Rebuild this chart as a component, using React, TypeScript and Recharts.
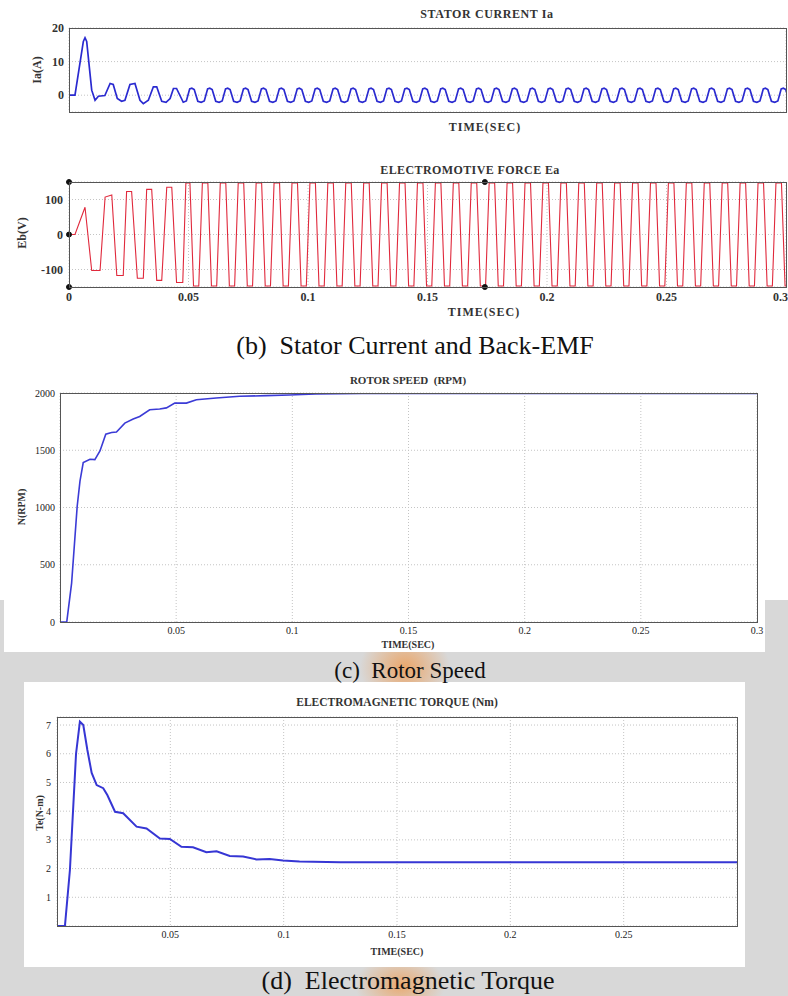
import React from 'react';
import { LineChart, Line, XAxis, YAxis, CartesianGrid, ReferenceDot } from 'recharts';

// time axis ticks (s)
const TIME_TICKS = [0, 0.05, 0.1, 0.15, 0.2, 0.25, 0.3];
const TIME_TICKS_SPEED = [0.05, 0.1, 0.15, 0.2, 0.25, 0.3];
const TIME_TICKS_TORQUE = [0.05, 0.1, 0.15, 0.2, 0.25];

// stator current Ia (A): start-up transient
const CUR_T = [0, 0.0025, 0.006, 0.0067, 0.0074, 0.0095, 0.0109, 0.0123, 0.015, 0.0172, 0.0185, 0.0202, 0.022, 0.0234, 0.0255, 0.0276, 0.0297, 0.0311, 0.0332, 0.0353, 0.0367, 0.0388, 0.0406, 0.0423, 0.0437, 0.045, 0.0478];
const CUR_V = [0, 0, 16, 17.1, 16, 1.5, -1.5, -0.3, -0.1, 3.5, 3.2, -1, -1.8, -1.5, 3.2, 3.5, -1.5, -2.5, -1.5, 2.5, 2.5, -1.8, -2.1, -1, 2.0, 2.0, -2.1];
// one steady-state period of Ia, repeated to the end of the run
const CUR_CYCLE_DT = [0, 0.0013, 0.0027, 0.0036, 0.0046, 0.0061];
const CUR_CYCLE_V = [-2.1, -1.7, 1.9, 2.1, 1.7, -1.8];

// back-EMF Ea (V)
const EMF_T = [0, 0.0025, 0.0067, 0.0095, 0.013, 0.0151, 0.0179, 0.02, 0.0227, 0.0241, 0.0262, 0.0286, 0.0311, 0.0325, 0.0346, 0.0367, 0.0388, 0.0409, 0.043, 0.045, 0.0476, 0.0489, 0.0506];
const EMF_V = [0, 0, 78, -103, -103, 107, 113, -117, -117, 123, 123, -125, -125, 129, 129, -131, -131, 135, 135, -137, -137, 147, 147];
const EMF_CYCLE_DT = [0, 0.0015, 0.0037, 0.0052];
const EMF_CYCLE_V = [147, -147, -147, 147];

const STEADY_PERIOD = 0.0075; // 2000 rpm, 4 pole pairs
const T_END = 0.3;

// data-cursor markers on the EMF plot
const EMF_CURSORS = [
  { t: 0, v: 150 },
  { t: 0, v: 0 },
  { t: 0, v: -150 },
  { t: 0.174, v: 150 },
  { t: 0.174, v: -150 },
];

// rotor speed (rpm)
const SPEED_T = [0, 0.0029, 0.005, 0.0074, 0.0086, 0.01, 0.0129, 0.015, 0.0172, 0.0197, 0.0222, 0.0243, 0.0279, 0.0315, 0.0343, 0.0386, 0.0429, 0.0458, 0.0494, 0.0544, 0.0587, 0.0672, 0.0773, 0.0887, 0.0987, 0.11, 0.13, 0.3];
const SPEED_V = [0, 0, 340, 1011, 1231, 1392, 1421, 1418, 1494, 1640, 1655, 1660, 1737, 1772, 1795, 1854, 1860, 1870, 1912, 1912, 1941, 1956, 1971, 1977, 1982, 1991, 1995, 1996];

// electromagnetic torque (N-m)
const TORQUE_T = [0, 0.0035, 0.0057, 0.0084, 0.0101, 0.0116, 0.0134, 0.0153, 0.0175, 0.0204, 0.0222, 0.0256, 0.0292, 0.0351, 0.0395, 0.0454, 0.0498, 0.0549, 0.06, 0.0659, 0.0704, 0.0762, 0.0821, 0.088, 0.0938, 0.0997, 0.107, 0.125, 0.3];
const TORQUE_V = [0, 0, 1.95, 6.0, 7.12, 7.0, 6.13, 5.33, 4.91, 4.8, 4.56, 3.98, 3.93, 3.46, 3.4, 3.05, 3.03, 2.76, 2.74, 2.57, 2.6, 2.44, 2.42, 2.32, 2.33, 2.28, 2.25, 2.22, 2.22];

type Pt = { t: number; v: number };

function zipPts(ts: number[], vs: number[]): Pt[] {
  return ts.map((t, i) => ({ t, v: vs[i] }));
}

// transient followed by the measured steady cycle
function withSteady(ts: number[], vs: number[], dts: number[], cvs: number[]): Pt[] {
  const pts = zipPts(ts, vs);
  const start = ts[ts.length - 1];
  for (let c = start; c < T_END; c += STEADY_PERIOD) {
    dts.forEach((dt, i) => {
      if (c + dt > start) pts.push({ t: c + dt, v: cvs[i] });
    });
  }
  return pts;
}

const currentData = withSteady(CUR_T, CUR_V, CUR_CYCLE_DT, CUR_CYCLE_V);
const emfData = withSteady(EMF_T, EMF_V, EMF_CYCLE_DT, EMF_CYCLE_V);
const speedData = zipPts(SPEED_T, SPEED_V);
const torqueData = zipPts(TORQUE_T, TORQUE_V);

const SERIF = '"Liberation Serif", "DejaVu Serif", serif';
const tickBig = { fontFamily: SERIF, fontSize: 12, fontWeight: 'bold', fill: '#333' };
const tickSmall = { fontFamily: SERIF, fontSize: 10, fill: '#222' };
const gridProps = { stroke: '#c4c4c4', strokeDasharray: '1 2' };

function Txt({ x, y, size, rotate, bold, spacing, children }: any) {
  return (
    <div
      style={{
        position: 'absolute',
        left: x,
        top: y,
        transform: `translate(-50%, -50%)${rotate ? ' rotate(-90deg)' : ''}`,
        fontFamily: SERIF,
        fontSize: size,
        fontWeight: bold ? 'bold' : 'normal',
        letterSpacing: spacing || 0,
        color: bold ? '#333' : '#111',
        whiteSpace: 'pre',
        lineHeight: 1,
      }}
    >
      {children}
    </div>
  );
}

function Box({ l, t, r, b }: { l: number; t: number; r: number; b: number }) {
  return (
    <div
      style={{
        position: 'absolute',
        left: l,
        top: t,
        width: r - l + 1,
        height: b - t + 1,
        border: '1px solid #555',
        boxSizing: 'border-box',
        pointerEvents: 'none',
      }}
    />
  );
}

export default function App() {
  return (
    <div style={{ position: 'absolute', left: 0, top: 0, width: 788, height: 996, background: '#fff', overflow: 'hidden' }}>
      {/* watermark backdrop */}
      <div
        style={{
          position: 'absolute',
          left: 0,
          top: 600,
          width: 788,
          height: 396,
          background:
            'radial-gradient(ellipse 45px 40px at 405px 68px, rgba(240,150,70,0.75), rgba(240,150,70,0) 100%),' +
            'radial-gradient(ellipse 45px 30px at 400px 385px, rgba(240,150,70,0.7), rgba(240,150,70,0) 100%),' +
            '#d8d8d8',
        }}
      />
      <div style={{ position: 'absolute', left: 4, top: 362, width: 761, height: 290, background: '#fff' }} />
      <div style={{ position: 'absolute', left: 24, top: 682, width: 721, height: 285, background: '#fff' }} />

      {/* (b) stator current */}
      <div style={{ position: 'absolute', left: 0, top: 0 }}>
        <LineChart width={788} height={120} data={currentData} margin={{ top: 28, right: 2, bottom: 0, left: 0 }}>
          <CartesianGrid {...gridProps} />
          <XAxis dataKey="t" type="number" domain={[0, T_END]} ticks={TIME_TICKS} allowDataOverflow tick={false} tickLine={false} axisLine={false} height={8} />
          <YAxis type="number" domain={[-5, 20]} ticks={[0, 10, 20]} allowDataOverflow width={69} tick={tickBig} tickLine={false} axisLine={false} tickSize={4} tickMargin={1} />
          <Line dataKey="v" type="linear" stroke="#2a2ad0" strokeWidth={1.7} dot={false} isAnimationActive={false} />
        </LineChart>
      </div>
      <Box l={69} t={28} r={786} b={112} />
      <Txt x={487} y={14} size={12} bold spacing={0.6}>STATOR CURRENT Ia</Txt>
      <Txt x={485} y={127} size={12} bold spacing={1}>TIME(SEC)</Txt>
      <Txt x={37} y={70} size={12} bold rotate>Ia(A)</Txt>

      {/* back-EMF */}
      <div style={{ position: 'absolute', left: 0, top: 170 }}>
        <LineChart width={788} height={137} data={emfData} margin={{ top: 12, right: 2, bottom: 0, left: 0 }}>
          <CartesianGrid {...gridProps} />
          <XAxis dataKey="t" type="number" domain={[0, T_END]} ticks={TIME_TICKS} allowDataOverflow tick={tickBig} tickLine={false} axisLine={false} height={20} tickSize={4} tickMargin={1} />
          <YAxis type="number" domain={[-150, 150]} ticks={[-100, 0, 100]} allowDataOverflow width={69} tick={tickBig} tickLine={false} axisLine={false} tickSize={4} tickMargin={2} />
          <Line dataKey="v" type="linear" stroke="#e0293c" strokeWidth={1.1} dot={false} isAnimationActive={false} />
          {EMF_CURSORS.map((c, i) => (
            <ReferenceDot key={i} x={c.t} y={c.v} r={2.5} fill="#111" stroke="#111" ifOverflow="visible" />
          ))}
        </LineChart>
      </div>
      <Box l={69} t={182} r={786} b={287} />
      <Txt x={470} y={170} size={12} bold spacing={0.4}>ELECTROMOTIVE FORCE Ea</Txt>
      <Txt x={484} y={312} size={12} bold spacing={1}>TIME(SEC)</Txt>
      <Txt x={22} y={233} size={12} bold rotate>Eb(V)</Txt>

      <Txt x={415} y={346} size={26}>(b)  Stator Current and Back-EMF</Txt>

      {/* (c) rotor speed */}
      <div style={{ position: 'absolute', left: 0, top: 380 }}>
        <LineChart width={788} height={262} data={speedData} margin={{ top: 13, right: 31, bottom: 0, left: 0 }}>
          <CartesianGrid {...gridProps} />
          <XAxis dataKey="t" type="number" domain={[0, T_END]} ticks={TIME_TICKS_SPEED} allowDataOverflow tick={tickSmall} tickLine={false} axisLine={false} height={20} tickSize={3} tickMargin={2} />
          <YAxis type="number" domain={[0, 2000]} ticks={[0, 500, 1000, 1500, 2000]} allowDataOverflow width={60} tick={tickSmall} tickLine={false} axisLine={false} tickSize={3} tickMargin={2} />
          <Line dataKey="v" type="linear" stroke="#3b3bd6" strokeWidth={1.6} dot={false} isAnimationActive={false} />
        </LineChart>
      </div>
      <Box l={60} t={393} r={757} b={622} />
      <Txt x={408} y={380} size={11} bold>ROTOR SPEED  (RPM)</Txt>
      <Txt x={408} y={645} size={10} bold>TIME(SEC)</Txt>
      <Txt x={22} y={507} size={10} bold rotate>N(RPM)</Txt>

      <Txt x={410} y={670} size={23}>(c)  Rotor Speed</Txt>

      {/* (d) electromagnetic torque */}
      <div style={{ position: 'absolute', left: 0, top: 700 }}>
        <LineChart width={788} height={246} data={torqueData} margin={{ top: 17, right: 51, bottom: 0, left: 0 }}>
          <CartesianGrid {...gridProps} />
          <XAxis dataKey="t" type="number" domain={[0, T_END]} ticks={TIME_TICKS_TORQUE} allowDataOverflow tick={tickSmall} tickLine={false} axisLine={false} height={20} tickSize={3} tickMargin={2} />
          <YAxis type="number" domain={[0, 7.28]} ticks={[1, 2, 3, 4, 5, 6, 7]} allowDataOverflow width={57} tick={tickSmall} tickLine={false} axisLine={false} tickSize={3} tickMargin={3} />
          <Line dataKey="v" type="linear" stroke="#3636d4" strokeWidth={2} dot={false} isAnimationActive={false} />
        </LineChart>
      </div>
      <Box l={57} t={717} r={737} b={926} />
      <Txt x={397} y={703} size={11.5} bold>ELECTROMAGNETIC TORQUE (Nm)</Txt>
      <Txt x={397} y={952} size={10} bold>TIME(SEC)</Txt>
      <Txt x={40} y={813} size={10} bold rotate>Te(N-m)</Txt>

      <Txt x={408} y={981} size={26}>(d)  Electromagnetic Torque</Txt>
    </div>
  );
}
